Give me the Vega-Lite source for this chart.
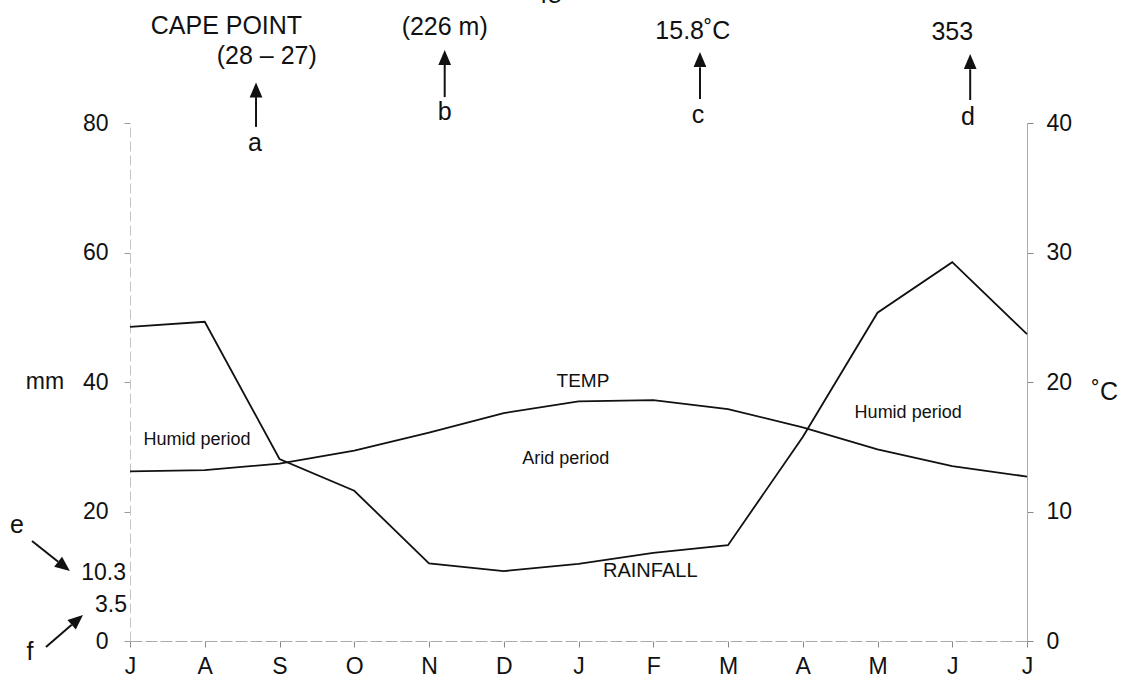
{
  "$schema": "https://vega.github.io/schema/vega-lite/v6.json",
  "width": 897,
  "height": 518,
  "autosize": {"type": "none"},
  "padding": {"left": 130, "top": 123, "right": 100, "bottom": 51},
  "background": "white",
  "config": {
    "view": {"stroke": null},
    "font": "Liberation Sans",
    "axis": {"grid": false, "labelFont": "Liberation Sans", "labelColor": "#111", "labelFlush": false, "labelOverlap": false},
    "text": {"font": "Liberation Sans", "color": "#111", "baseline": "middle", "align": "center"}
  },
  "datasets": {
    "climate": [
      {"m": 0, "month": "J", "rain": 48.5, "temp": 13.1},
      {"m": 1, "month": "A", "rain": 49.3, "temp": 13.2},
      {"m": 2, "month": "S", "rain": 28.1, "temp": 13.7},
      {"m": 3, "month": "O", "rain": 23.2, "temp": 14.7},
      {"m": 4, "month": "N", "rain": 12.0, "temp": 16.1},
      {"m": 5, "month": "D", "rain": 10.8, "temp": 17.6},
      {"m": 6, "month": "J", "rain": 11.9, "temp": 18.5},
      {"m": 7, "month": "F", "rain": 13.6, "temp": 18.6},
      {"m": 8, "month": "M", "rain": 14.8, "temp": 17.9},
      {"m": 9, "month": "A", "rain": 31.5, "temp": 16.5},
      {"m": 10, "month": "M", "rain": 50.7, "temp": 14.8},
      {"m": 11, "month": "J", "rain": 58.5, "temp": 13.5},
      {"m": 12, "month": "J", "rain": 47.4, "temp": 12.7}
    ]
  },
  "layer": [
    {
      "layer": [
        {
          "data": {"name": "climate"},
          "mark": {"type": "line", "color": "#111", "strokeWidth": 1.8},
          "encoding": {
            "x": {
              "field": "m", "type": "quantitative",
              "scale": {"domain": [0, 12], "nice": false, "zero": false},
              "axis": {
                "orient": "bottom", "title": null,
                "values": [0, 1, 2, 3, 4, 5, 6, 7, 8, 9, 10, 11, 12],
                "labelExpr": "['J','A','S','O','N','D','J','F','M','A','M','J','J'][datum.value]",
                "labelFontSize": 23, "labelPadding": 8,
                "tickSize": 6, "tickColor": "#888", "domainColor": "#aaa", "domainDash": [12, 3]
              }
            },
            "y": {
              "field": "rain", "type": "quantitative",
              "scale": {"domain": [0, 80], "nice": false, "zero": false},
              "axis": {
                "orient": "left", "title": null,
                "values": [0, 20, 40, 60, 80],
                "labelFontSize": 23, "labelPadding": 16,
                "tickSize": 6, "tickColor": "#999", "domainColor": "#c4c4c4", "domainDash": [10, 4]
              }
            }
          }
        },
        {
          "data": {"values": [{}]},
          "layer": [
            {"mark": {"type": "text", "text": "48", "fontSize": 25, "baseline": "alphabetic"},
             "encoding": {"x": {"datum": 5.59, "title": null}, "y": {"datum": 98.6, "title": null}}},
            {"mark": {"type": "text", "text": "CAPE POINT", "fontSize": 25},
             "encoding": {"x": {"datum": 1.29, "title": null}, "y": {"datum": 95.0, "title": null}}},
            {"mark": {"type": "text", "text": "(28 – 27)", "fontSize": 25},
             "encoding": {"x": {"datum": 1.83, "title": null}, "y": {"datum": 90.4, "title": null}}},
            {"mark": {"type": "text", "text": "(226 m)", "fontSize": 25},
             "encoding": {"x": {"datum": 4.21, "title": null}, "y": {"datum": 94.8, "title": null}}},
            {"mark": {"type": "text", "text": "15.8˚C", "fontSize": 25},
             "encoding": {"x": {"datum": 7.53, "title": null}, "y": {"datum": 94.2, "title": null}}},
            {"mark": {"type": "text", "text": "353", "fontSize": 25},
             "encoding": {"x": {"datum": 11.0, "title": null}, "y": {"datum": 94.0, "title": null}}},
            {"mark": {"type": "text", "text": "a", "fontSize": 25},
             "encoding": {"x": {"datum": 1.67, "title": null}, "y": {"datum": 76.9, "title": null}}},
            {"mark": {"type": "text", "text": "b", "fontSize": 25},
             "encoding": {"x": {"datum": 4.21, "title": null}, "y": {"datum": 81.7, "title": null}}},
            {"mark": {"type": "text", "text": "c", "fontSize": 25},
             "encoding": {"x": {"datum": 7.6, "title": null}, "y": {"datum": 81.2, "title": null}}},
            {"mark": {"type": "text", "text": "d", "fontSize": 25},
             "encoding": {"x": {"datum": 11.21, "title": null}, "y": {"datum": 80.9, "title": null}}},
            {"mark": {"type": "text", "text": "e", "fontSize": 25},
             "encoding": {"x": {"datum": -1.512, "title": null}, "y": {"datum": 17.9, "title": null}}},
            {"mark": {"type": "text", "text": "f", "fontSize": 25},
             "encoding": {"x": {"datum": -1.338, "title": null}, "y": {"datum": -1.7, "title": null}}},
            {"mark": {"type": "text", "text": "10.3", "fontSize": 23, "align": "right"},
             "encoding": {"x": {"datum": -0.053, "title": null}, "y": {"datum": 10.5, "title": null}}},
            {"mark": {"type": "text", "text": "3.5", "fontSize": 23, "align": "right"},
             "encoding": {"x": {"datum": -0.04, "title": null}, "y": {"datum": 5.5, "title": null}}},
            {"mark": {"type": "text", "text": "mm", "fontSize": 23},
             "encoding": {"x": {"datum": -1.137, "title": null}, "y": {"datum": 40, "title": null}}},
            {"mark": {"type": "text", "text": "˚C", "fontSize": 25},
             "encoding": {"x": {"datum": 13.04, "title": null}, "y": {"datum": 38.5, "title": null}}},
            {"mark": {"type": "text", "text": "TEMP", "fontSize": 19},
             "encoding": {"x": {"datum": 6.06, "title": null}, "y": {"datum": 40.2, "title": null}}},
            {"mark": {"type": "text", "text": "RAINFALL", "fontSize": 20},
             "encoding": {"x": {"datum": 6.96, "title": null}, "y": {"datum": 10.8, "title": null}}},
            {"mark": {"type": "text", "text": "Arid period", "fontSize": 18},
             "encoding": {"x": {"datum": 5.83, "title": null}, "y": {"datum": 28.1, "title": null}}},
            {"mark": {"type": "text", "text": "Humid period", "fontSize": 18},
             "encoding": {"x": {"datum": 0.896, "title": null}, "y": {"datum": 31.0, "title": null}}},
            {"mark": {"type": "text", "text": "Humid period", "fontSize": 18},
             "encoding": {"x": {"datum": 10.41, "title": null}, "y": {"datum": 35.2, "title": null}}},
            {"mark": {"type": "rule", "color": "#111", "strokeWidth": 2},
             "encoding": {"x": {"datum": 1.686, "title": null}, "y": {"datum": 84.0, "title": null}, "y2": {"datum": 79.4}}},
            {"mark": {"type": "rule", "color": "#111", "strokeWidth": 2},
             "encoding": {"x": {"datum": 4.21, "title": null}, "y": {"datum": 89.0, "title": null}, "y2": {"datum": 84.0}}},
            {"mark": {"type": "rule", "color": "#111", "strokeWidth": 2},
             "encoding": {"x": {"datum": 7.625, "title": null}, "y": {"datum": 88.6, "title": null}, "y2": {"datum": 83.7}}},
            {"mark": {"type": "rule", "color": "#111", "strokeWidth": 2},
             "encoding": {"x": {"datum": 11.24, "title": null}, "y": {"datum": 88.3, "title": null}, "y2": {"datum": 83.55}}},
            {"mark": {"type": "rule", "color": "#111", "strokeWidth": 2},
             "encoding": {"x": {"datum": -1.311, "title": null}, "y": {"datum": 15.44, "title": null}, "x2": {"datum": -0.961}, "y2": {"datum": 12.25}}},
            {"mark": {"type": "rule", "color": "#111", "strokeWidth": 2},
             "encoding": {"x": {"datum": -1.124, "title": null}, "y": {"datum": -0.93, "title": null}, "x2": {"datum": -0.78}, "y2": {"datum": 2.5}}},
            {"mark": {"type": "point", "shape": "M0,-1L0.85,1L-0.85,1Z", "filled": true, "color": "#111", "opacity": 1, "size": 225},
             "encoding": {"x": {"datum": 1.686, "title": null}, "y": {"datum": 85.1, "title": null}}},
            {"mark": {"type": "point", "shape": "M0,-1L0.85,1L-0.85,1Z", "filled": true, "color": "#111", "opacity": 1, "size": 225},
             "encoding": {"x": {"datum": 4.21, "title": null}, "y": {"datum": 90.1, "title": null}}},
            {"mark": {"type": "point", "shape": "M0,-1L0.85,1L-0.85,1Z", "filled": true, "color": "#111", "opacity": 1, "size": 225},
             "encoding": {"x": {"datum": 7.625, "title": null}, "y": {"datum": 89.8, "title": null}}},
            {"mark": {"type": "point", "shape": "M0,-1L0.85,1L-0.85,1Z", "filled": true, "color": "#111", "opacity": 1, "size": 225},
             "encoding": {"x": {"datum": 11.24, "title": null}, "y": {"datum": 89.5, "title": null}}},
            {"mark": {"type": "point", "shape": "M0,-1L0.85,1L-0.85,1Z", "filled": true, "color": "#111", "opacity": 1, "size": 225, "angle": 128.3},
             "encoding": {"x": {"datum": -0.883, "title": null}, "y": {"datum": 11.52, "title": null}}},
            {"mark": {"type": "point", "shape": "M0,-1L0.85,1L-0.85,1Z", "filled": true, "color": "#111", "opacity": 1, "size": 225, "angle": 49.1},
             "encoding": {"x": {"datum": -0.705, "title": null}, "y": {"datum": 3.26, "title": null}}}
          ]
        }
      ]
    },
    {
      "data": {"name": "climate"},
      "mark": {"type": "line", "color": "#111", "strokeWidth": 1.8},
      "encoding": {
        "x": {"field": "m", "type": "quantitative", "scale": {"domain": [0, 12], "nice": false, "zero": false}},
        "y": {
          "field": "temp", "type": "quantitative",
          "scale": {"domain": [0, 40], "nice": false, "zero": false},
          "axis": {
            "orient": "right", "title": null,
            "values": [0, 10, 20, 30, 40],
            "labelFontSize": 23, "labelPadding": 13,
            "tickSize": 6, "tickColor": "#888", "domainColor": "#aaa"
          }
        }
      }
    }
  ],
  "resolve": {"scale": {"y": "independent"}}
}
